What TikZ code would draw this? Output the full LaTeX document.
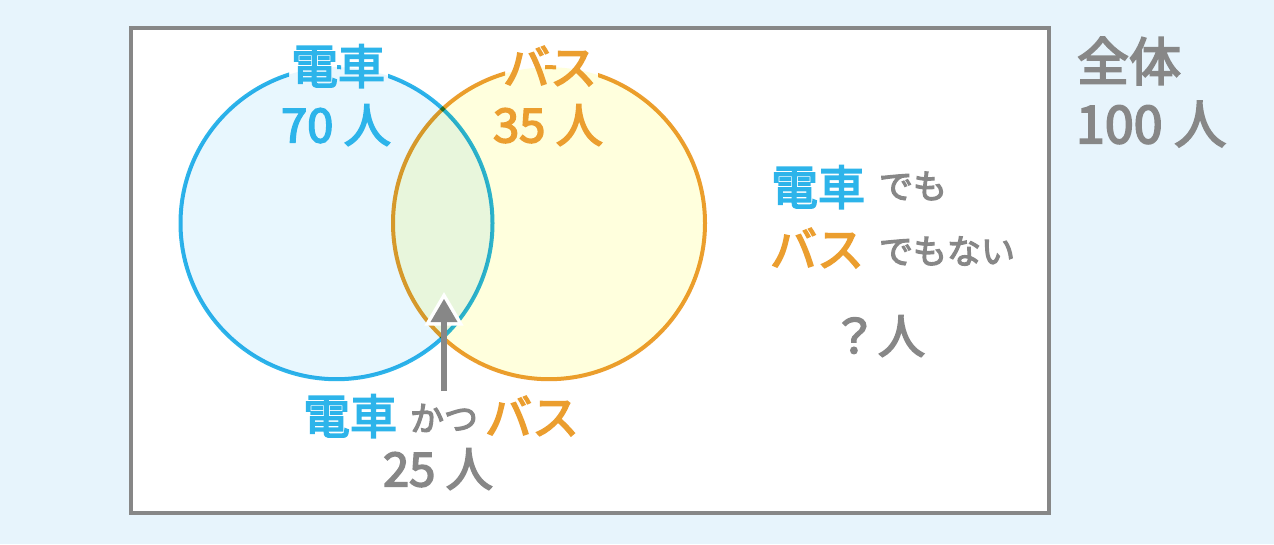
\documentclass[tikz,border=0pt]{standalone}
\usepackage{fontspec}
\newfontfamily\jp{Noto Sans CJK JP}[FakeBold=3.5]
\definecolor{bgblue}{HTML}{E7F4FC}
\definecolor{framegray}{HTML}{878787}
\definecolor{tblue}{HTML}{2DB4EA}
\definecolor{torange}{HTML}{EB9E2F}
\definecolor{tgray}{HTML}{878787}
\definecolor{lfill}{HTML}{E8F7FE}
\definecolor{rfill}{HTML}{FFFFDD}
\definecolor{mfill}{HTML}{E8F6DC}
\newcommand\bigjp{\jp\fontsize{47}{50}\selectfont}
\newcommand\hugejp{\jp\fontsize{52}{55}\selectfont}
\newcommand\smalljp{\jp\fontsize{34}{37}\selectfont}
\tikzset{
  big/.style={inner sep=0pt, outer sep=0pt, font=\bigjp},
  huge/.style={inner sep=0pt, outer sep=0pt, font=\hugejp},
  small/.style={inner sep=0pt, outer sep=0pt, font=\smalljp},
  framebox/.style={draw=framegray, fill=white, line width=4pt, minimum width=918.2pt, minimum height=484.7pt, inner sep=0pt},
  ring/.style={line width=4pt, blend mode=multiply},
}
\begin{document}
\begin{tikzpicture}[x=1pt,y=-1pt]
\useasboundingbox (0,0) rectangle (1274,544);
\fill[bgblue] (0,0) rectangle (1274,544);
\node[framebox] (frame) at (589.6,270.35) {};
% circles
\coordinate (cL) at (336.5,223.2);
\coordinate (cR) at (549,223.2);
\fill[lfill] (cL) circle (156pt);
\fill[rfill] (cR) circle (156pt);
\begin{scope}
  \clip (cL) circle (156pt);
  \fill[mfill] (cR) circle (156pt);
\end{scope}
% outlines, broken where the top labels sit on them
\begin{scope}[even odd rule]
  \clip (0,0) rectangle (1274,544)
    (289,42) rectangle (337,92) (341,42) rectangle (388,92)
    (505,42) rectangle (545,92) (556,42) rectangle (598,92);
  \draw[ring, tblue] (cL) circle (156pt);
  \draw[ring, torange] (cR) circle (156pt);
\end{scope}
% arrow
\coordinate (atail) at (444,391);
\coordinate (atip) at (444,299);
\filldraw[white, line width=7pt, line join=miter] (atip) -- ++(-13.5,23) -- ++(27,0) -- cycle;
\draw[tgray, line width=6pt] (atail) -- ([yshift=-20pt]atip);
\fill[tgray] (atip) -- ++(-13.5,23) -- ++(27,0) -- cycle;
% top labels
\node[big, text=tblue] (tl1) at (338,66) {電車};
\node[big, text=tblue] (tl2) at (336,125) {70 人};
\node[big, text=torange] (tr1) at (550,66) {バス};
\node[big, text=torange] (tr2) at (548,125) {35 人};
% total
\node[huge, text=tgray, anchor=west] (all1) at (1077,61) {全体};
\node[huge, text=tgray, anchor=west] (all2) at (1076,124) {100 人};
% neither
\node[big, text=tblue] (n1) at (818,187) {電車};
\node[small, text=tgray, anchor=west] (n1b) at (879,186) {でも};
\node[big, text=torange] (n2) at (817,248) {バス};
\node[small, text=tgray, anchor=west] (n2b) at (879,251) {でもない};
\node[big, text=tgray] (q) at (878,336) {？人};
% both
\node[big, text=tblue] (b1) at (350,416) {電車};
\node[small, text=tgray] (b2) at (444,418) {かつ};
\node[big, text=torange] (b3) at (532,416) {バス};
\node[big, text=tgray] (b4) at (438,469) {25 人};
\end{tikzpicture}
\end{document}
